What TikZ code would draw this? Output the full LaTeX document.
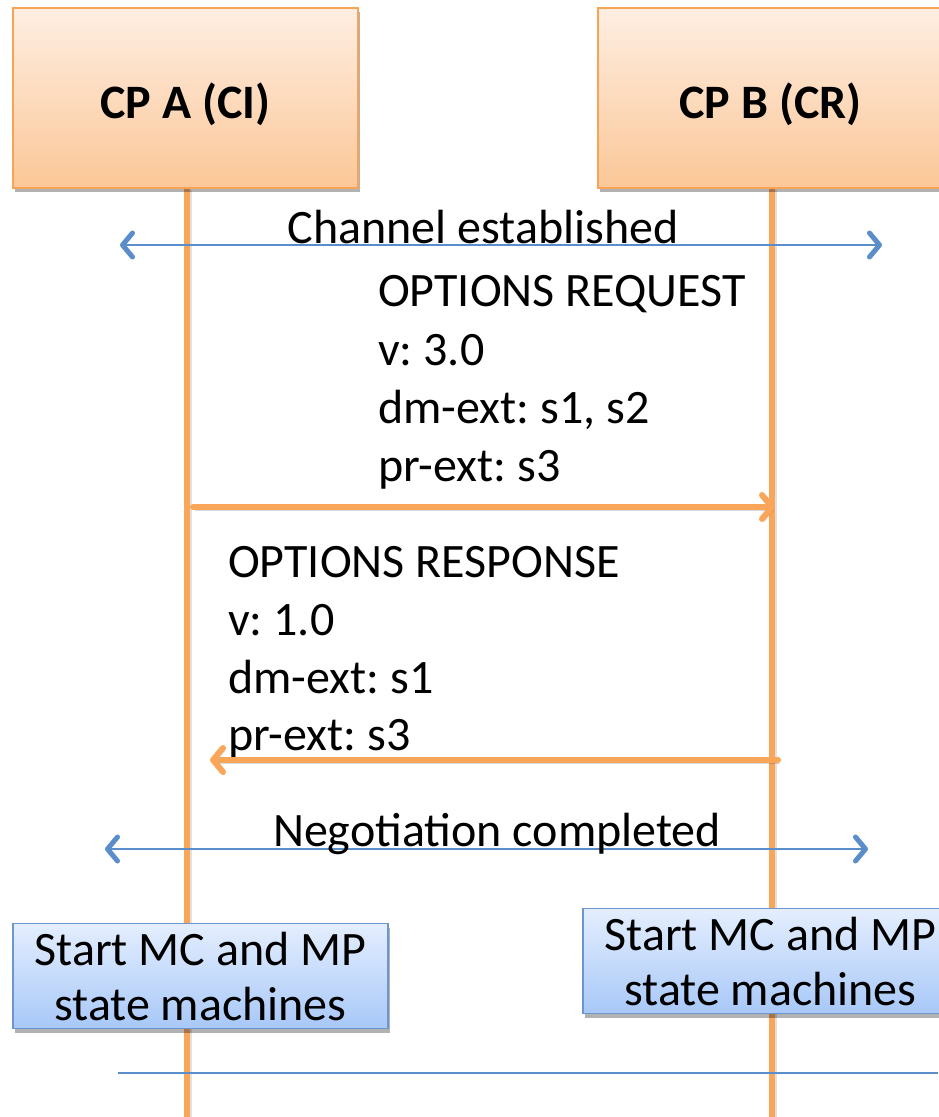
\documentclass[tikz,border=0pt]{standalone}
\usepackage{fontspec}
\setmainfont{Carlito}
\usetikzlibrary{arrows.meta,shadows}
\frenchspacing
\definecolor{orln}{HTML}{F9A65A}
\definecolor{orbd}{HTML}{F7A457}
\definecolor{ortop}{HTML}{FEEEE2}
\definecolor{orbot}{HTML}{FBC797}
\definecolor{bl}{HTML}{5B8DCB}
\definecolor{bltop}{HTML}{E4EEFE}
\definecolor{blbot}{HTML}{A8C8F8}
\definecolor{blbd}{HTML}{6E96CE}
\tikzset{
  cpbox/.style={draw=orbd, line width=1.5pt, top color=ortop, bottom color=orbot,
    minimum width=345pt, minimum height=180pt, inner sep=0pt,
    font=\fontsize{48}{55}\selectfont\bfseries,
    drop shadow={shadow xshift=2pt, shadow yshift=-4pt, opacity=0.3, fill=black}},
  smbox/.style={draw=blbd, line width=1.5pt, top color=bltop, bottom color=blbot,
    minimum width=375pt, minimum height=105pt, inner sep=0pt, align=center,
    font=\fontsize{48}{55}\selectfont,
    drop shadow={shadow xshift=2pt, shadow yshift=-4pt, opacity=0.3, fill=black}},
  lifeline/.style={draw=orln, line width=6pt,
    preaction={draw=black, opacity=0.12, line width=6pt, transform canvas={shift={(2pt,-2pt)}}}},
  msg/.style={draw=orln, line width=6pt, line cap=round,
    -{Straight Barb[length=10pt, width=24pt, round]},
    preaction={draw=black, opacity=0.15, transform canvas={shift={(2pt,-3pt)}}}},
  sync/.style={draw=bl, line width=2.2pt,
    {Straight Barb[length=10pt, width=24pt, line width=5pt, round]}-{Straight Barb[length=10pt, width=24pt, line width=5pt, round]}},
  plain/.style={draw=bl, line width=2pt},
  txt/.style={anchor=base west, inner sep=0pt, font=\fontsize{48}{58}\selectfont},
  ctxt/.style={anchor=base, inner sep=0pt, font=\fontsize{48}{58}\selectfont}
}
\begin{document}
\begin{tikzpicture}[x=1pt,y=-1pt]
\useasboundingbox[fill=white] (0,0) rectangle (938,1117);

% lifeline bottoms
\coordinate (Abot) at (187,1117);
\coordinate (Bbot) at (772,1117);

% lifelines
\draw[lifeline] (187,188) coordinate (Atop) -- (Abot);
\draw[lifeline] (772,188) coordinate (Btop) -- (Bbot);

% participant boxes
\node[cpbox] (A) at (185.5,98) {\raisebox{-20pt}[0pt][0pt]{CP A (CI)}};
\node[cpbox] (B) at (770.5,98) {\raisebox{-20pt}[0pt][0pt]{CP B (CR)}};

% channel established
\coordinate (c1) at (120,245);
\coordinate (c2) at (882,245);
\draw[sync] (c1) -- (c2);
\node[ctxt] (chan) at (483,243) {Channel established};

% options request
\node[txt] (rq1) at (378,306) {OPTIONS REQUEST};
\node[txt] (rq2) at (378,365) {v: 3.0};
\node[txt] (rq3) at (378,423) {dm-ext: s1, s2};
\node[txt] (rq4) at (378,481) {pr-ext: s3};
\coordinate (r1s) at (193,507);
\coordinate (r1e) at (775,507);
\draw[msg] (r1s) -- (r1e);

% options response
\node[txt] (rs1) at (228,577) {OPTIONS RESPONSE};
\node[txt] (rs2) at (228,635) {v: 1.0};
\node[txt] (rs3) at (228,693) {dm-ext: s1};
\node[txt] (rs4) at (228,750) {pr-ext: s3};
\coordinate (r2s) at (778,760);
\coordinate (r2e) at (210,760);
\draw[msg] (r2s) -- (r2e);

% negotiation completed
\coordinate (n1) at (105,849);
\coordinate (n2) at (868,849);
\draw[sync] (n1) -- (n2);
\node[ctxt] (neg) at (497,846) {Negotiation completed};

% state machine boxes
\node[smbox] (SA) at (200.5,976) {Start MC and MP\\state machines};
\node[smbox] (SB) at (770.5,961) {Start MC and MP\\state machines};

% bottom line
\coordinate (b1) at (118,1073);
\coordinate (b2) at (938,1073);
\draw[plain] (b1) -- (b2);
\end{tikzpicture}
\end{document}
